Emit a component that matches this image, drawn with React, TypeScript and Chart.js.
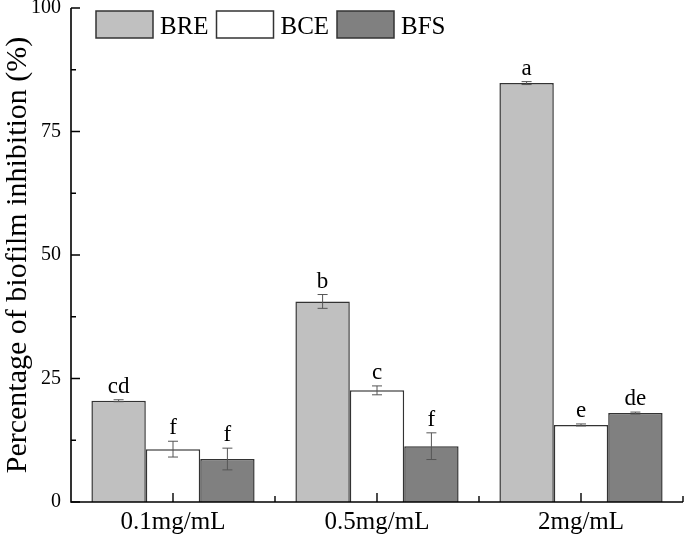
import React, { useEffect, useRef } from "react";
import { Chart, registerables } from "chart.js";

Chart.register(...registerables);

const categories = ["0.1mg/mL", "0.5mg/mL", "2mg/mL"];
const seriesNames = ["BRE", "BCE", "BFS"];
const breValues = [20.5, 40.6, 84.8];
const bceValues = [10.7, 22.6, 15.6];
const bfsValues = [8.7, 11.3, 18.0];
const breErrors = [0.2, 1.4, 0.3];
const bceErrors = [1.6, 0.9, 0.2];
const bfsErrors = [2.2, 2.7, 0.2];
const breLetters = ["cd", "b", "a"];
const bceLetters = ["f", "c", "e"];
const bfsLetters = ["f", "f", "de"];
const yTicks = [0, 25, 50, 75, 100];
const yTitle = "Percentage of biofilm inhibition (%)";

const FONT = "'Liberation Serif', 'Times New Roman', serif";
const fills = ["#c0c0c0", "#ffffff", "#808080"];
const errorsAll = [breErrors, bceErrors, bfsErrors];
const lettersAll = [breLetters, bceLetters, bfsLetters];

const overlayPlugin = {
  id: "overlay",
  afterDatasetsDraw(chart: any) {
    const { ctx, chartArea, scales } = chart;
    const y = scales.y;
    const x = scales.x;
    ctx.save();
    // error bars + letters
    chart.data.datasets.forEach((ds: any, di: number) => {
      const meta = chart.getDatasetMeta(di);
      meta.data.forEach((bar: any, i: number) => {
        const v = ds.data[i];
        const e = errorsAll[di][i];
        const yTop = y.getPixelForValue(v + e);
        const yBot = y.getPixelForValue(v - e);
        ctx.strokeStyle = "#555";
        ctx.lineWidth = 1;
        ctx.beginPath();
        ctx.moveTo(bar.x, yTop);
        ctx.lineTo(bar.x, yBot);
        ctx.moveTo(bar.x - 5, yTop);
        ctx.lineTo(bar.x + 5, yTop);
        ctx.moveTo(bar.x - 5, yBot);
        ctx.lineTo(bar.x + 5, yBot);
        ctx.stroke();
        ctx.fillStyle = "#000";
        ctx.font = `23px ${FONT}`;
        ctx.textAlign = "center";
        ctx.textBaseline = "alphabetic";
        ctx.fillText(lettersAll[di][i], bar.x, yTop - 7);
      });
    });
    // axes
    const L = chartArea.left;
    const B = chartArea.bottom;
    ctx.strokeStyle = "#000";
    ctx.lineWidth = 1.6;
    ctx.beginPath();
    ctx.moveTo(L, chartArea.top);
    ctx.lineTo(L, B);
    ctx.lineTo(chartArea.right, B);
    ctx.stroke();
    ctx.lineWidth = 1.4;
    ctx.beginPath();
    for (let t = 0; t <= 100; t += 12.5) {
      const py = y.getPixelForValue(t);
      const len = t % 25 === 0 ? 9 : 5;
      ctx.moveTo(L, py);
      ctx.lineTo(L + len, py);
    }
    const n = categories.length;
    for (let i = 0; i < n; i++) {
      const cx = x.getPixelForValue(i);
      ctx.moveTo(cx, B);
      ctx.lineTo(cx, B - 9);
    }
    const step = (chartArea.right - L) / n;
    for (let i = 1; i <= n; i++) {
      const bx = L + step * i;
      ctx.moveTo(bx, B);
      ctx.lineTo(bx, B - 6);
    }
    ctx.stroke();
    // legend
    const lx0 = L + 25;
    const ly = 11;
    ctx.font = `25px ${FONT}`;
    ctx.textAlign = "left";
    ctx.textBaseline = "alphabetic";
    seriesNames.forEach((name, i) => {
      const sx = lx0 + i * 120.5;
      ctx.fillStyle = fills[i];
      ctx.fillRect(sx, ly, 57, 27);
      ctx.strokeStyle = "#333";
      ctx.lineWidth = 1.5;
      ctx.strokeRect(sx, ly, 57, 27);
      ctx.fillStyle = "#000";
      ctx.fillText(name, sx + 64, ly + 23);
    });
    ctx.restore();
  },
};

export default function App() {
  const ref = useRef<HTMLCanvasElement | null>(null);
  useEffect(() => {
    if (!ref.current) return;
    const valuesAll = [breValues, bceValues, bfsValues];
    const chart = new Chart(ref.current, {
      type: "bar",
      data: {
        labels: categories,
        datasets: seriesNames.map((name, i) => ({
          label: name,
          data: valuesAll[i],
          backgroundColor: fills[i],
          borderColor: "#333",
          borderWidth: 1.5,
          categoryPercentage: 0.8,
          barPercentage: 1.0,
        })),
      },
      options: {
        responsive: false,
        animation: false,
        events: [],
        layout: { padding: { top: 8, right: 2, left: 0, bottom: 0 } },
        plugins: { legend: { display: false }, tooltip: { enabled: false } },
        scales: {
          x: {
            grid: { display: false, drawTicks: false, tickLength: 0 },
            border: { display: false },
            ticks: { color: "#000", font: { family: FONT, size: 25 }, padding: 5 },
            afterFit(s: any) {
              s.height = 35;
              s.paddingLeft = 0;
              s.paddingRight = 0;
            },
          },
          y: {
            min: 0,
            max: 100,
            afterBuildTicks(s: any) {
              s.ticks = yTicks.map((v) => ({ value: v }));
            },
            grid: { display: false, drawTicks: false, tickLength: 0 },
            border: { display: false },
            ticks: { color: "#000", font: { family: FONT, size: 20 }, padding: 10 },
            title: {
              display: true,
              text: yTitle,
              color: "#000",
              font: { family: FONT, size: 30 },
              padding: { top: 0, bottom: 0 },
            },
            afterFit(s: any) {
              s.width = 71;
              s.paddingTop = 0;
              s.paddingBottom = 0;
            },
          },
        },
      },
      plugins: [overlayPlugin],
    });
    return () => chart.destroy();
  }, []);
  return (
    <canvas
      ref={ref}
      width={685}
      height={537}
      style={{ position: "fixed", left: 0, top: 0, width: 685, height: 537 }}
    />
  );
}
